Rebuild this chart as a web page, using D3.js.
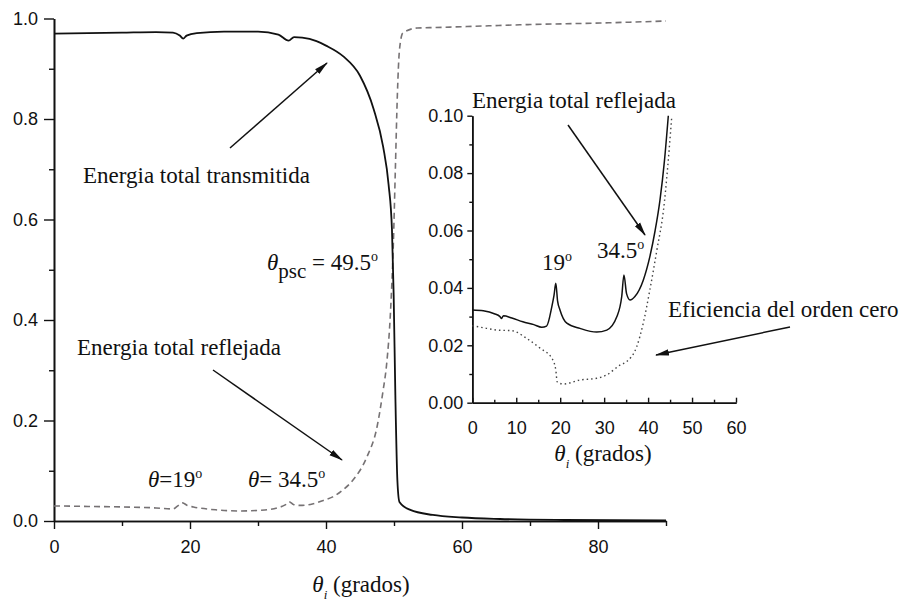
<!DOCTYPE html>
<html>
<head>
<meta charset="utf-8">
<script src="https://cdn.jsdelivr.net/npm/d3@7"></script>
<style>
  body { margin: 0; background: #fff; }
  .tick text { font-family: "Liberation Sans", Arial, sans-serif; font-size: 18px; fill: #111; }
  .ann { font-family: "Liberation Serif", "Times New Roman", serif; font-size: 23px; fill: #111; }
</style>
</head>
<body>
<div id="chart"></div>
<script>
// main plot: transmitted energy (solid) and reflected energy (dashed)
const transAngle = [0, 5, 10, 15, 17.5, 18.5, 19, 19.5, 21, 25, 30, 33, 34.5, 35.3, 36.5, 38.6, 40, 42.5, 45, 47, 48.4, 49.2, 49.7, 49.95, 50.2, 50.5, 50.8, 52.4, 55.7, 60, 65.6, 75, 90]
const transVal   = [0.970, 0.971, 0.972, 0.973, 0.972, 0.966, 0.960, 0.966, 0.971, 0.974, 0.974, 0.968, 0.956, 0.963, 0.962, 0.955, 0.946, 0.925, 0.886, 0.82, 0.745, 0.67, 0.58, 0.45, 0.25, 0.08, 0.038, 0.022, 0.012, 0.007, 0.004, 0.002, 0.001]

const reflAngle = [0, 5, 10, 15, 17.5, 18.2, 18.9, 19.6, 20.5, 24, 27.4, 31, 32.8, 34.0, 34.6, 35.2, 36.2, 38, 39.6, 41, 42.5, 44, 46, 47.5, 48.4, 48.9, 49.5, 49.9, 50.2, 50.5, 50.8, 51.3, 53.4, 56, 60.7, 70, 80.3, 90]
const reflVal   = [0.030, 0.029, 0.028, 0.026, 0.024, 0.030, 0.036, 0.031, 0.028, 0.022, 0.020, 0.022, 0.026, 0.032, 0.038, 0.033, 0.031, 0.034, 0.041, 0.048, 0.062, 0.082, 0.127, 0.187, 0.26, 0.31, 0.42, 0.55, 0.70, 0.85, 0.937, 0.971, 0.981, 0.982, 0.984, 0.988, 0.991, 0.995]

// inset: reflected energy (solid) and zero-order efficiency (dotted)
const inReflAngle = [0, 2.5, 5, 6.3, 6.6, 7.1, 9, 11.5, 14, 15.8, 16.9, 18.1, 18.6, 19.0, 19.4, 19.95, 21.5, 24.5, 28.3, 30.6, 32.9, 34.0, 34.5, 35.1, 35.9, 37.0, 38.9, 40.4, 41.6, 42.7, 43.7, 44.6]
const inReflVal   = [0.0323, 0.032, 0.031, 0.0300, 0.0293, 0.0303, 0.0295, 0.0282, 0.0272, 0.0263, 0.0267, 0.0335, 0.0375, 0.0416, 0.0355, 0.0323, 0.0277, 0.0259, 0.0246, 0.0253, 0.030, 0.037, 0.0445, 0.038, 0.0358, 0.037, 0.0427, 0.0509, 0.060, 0.0706, 0.084, 0.1]

const effAngle = [0, 3, 5.6, 9, 12.4, 15.4, 18.1, 19.0, 19.3, 20.7, 24.5, 28.3, 30.6, 33.6, 35.1, 37.4, 38.9, 40.4, 42.0, 43.5, 45.4]
const effVal   = [0.0268, 0.026, 0.0253, 0.0251, 0.0224, 0.019, 0.0155, 0.0114, 0.0073, 0.0065, 0.0079, 0.0085, 0.0097, 0.0131, 0.0143, 0.0195, 0.0277, 0.0393, 0.0532, 0.0671, 0.1]

const mainXMajor = [0, 20, 40, 60, 80]
const mainXMinor = [10, 30, 50, 70, 90]
const mainYMajor = [0, 0.2, 0.4, 0.6, 0.8, 1.0]
const mainYMinor = [0.1, 0.3, 0.5, 0.7, 0.9]
const inXMajor = [0, 10, 20, 30, 40, 50, 60]
const inXMinor = [5, 15, 25, 35, 45, 55]
const inYMajor = [0, 0.02, 0.04, 0.06, 0.08, 0.10]
const inYMinor = [0.01, 0.03, 0.05, 0.07, 0.09]

const zip = (a, b) => a.map((v, i) => [v, b[i]])

const svg = d3.select('#chart').append('svg')
  .attr('width', 912)
  .attr('height', 603)

svg.append('defs').append('marker')
  .attr('id', 'arrow')
  .attr('markerUnits', 'userSpaceOnUse')
  .attr('viewBox', '0 -4 14 8')
  .attr('markerWidth', 14).attr('markerHeight', 8)
  .attr('refX', 13).attr('refY', 0)
  .attr('orient', 'auto')
  .append('path').attr('d', 'M0,-3.2L14,0L0,3.2Z').attr('fill', '#111')

// ---------- main chart
const x = d3.scaleLinear().domain([0, 90]).range([54, 666])
const y = d3.scaleLinear().domain([0, 1]).range([521, 18.5])

svg.append('g').attr('transform', `translate(0,${y(0)})`)
  .call(d3.axisBottom(x).tickValues(mainXMajor).tickFormat(d3.format('d')).tickSize(8).tickSizeOuter(0).tickPadding(11))
svg.append('g').attr('transform', `translate(0,${y(0)})`)
  .call(d3.axisBottom(x).tickValues(mainXMinor).tickFormat('').tickSize(5).tickSizeOuter(0))

svg.append('g').attr('transform', `translate(${x(0)},0)`)
  .call(d3.axisLeft(y).tickValues(mainYMajor).tickFormat(d3.format('.1f')).tickSize(10).tickSizeOuter(0).tickPadding(6))
svg.append('g').attr('transform', `translate(${x(0)},0)`)
  .call(d3.axisLeft(y).tickValues(mainYMinor).tickFormat('').tickSize(5).tickSizeOuter(0))

const line = d3.line().x(d => x(d[0])).y(d => y(d[1])).curve(d3.curveMonotoneX)

svg.append('path').datum(zip(reflAngle, reflVal))
  .attr('d', line).attr('fill', 'none')
  .attr('stroke', '#767274').attr('stroke-width', 1.6).attr('stroke-dasharray', '6,4')

svg.append('path').datum(zip(transAngle, transVal))
  .attr('d', line).attr('fill', 'none')
  .attr('stroke', '#111').attr('stroke-width', 1.8)

// ---------- inset
const xi = d3.scaleLinear().domain([0, 60]).range([472.3, 736])
const yi = d3.scaleLinear().domain([0, 0.1]).range([402.7, 115.7])

svg.append('g').attr('transform', `translate(0,${yi(0)})`)
  .call(d3.axisBottom(xi).tickValues(inXMajor).tickFormat(d3.format('d')).tickSize(-5).tickSizeOuter(0).tickPadding(19))
svg.append('g').attr('transform', `translate(0,${yi(0)})`)
  .call(d3.axisBottom(xi).tickValues(inXMinor).tickFormat('').tickSize(-3).tickSizeOuter(0))

svg.append('g').attr('transform', `translate(${xi(0)},0)`)
  .call(d3.axisLeft(yi).tickValues(inYMajor).tickFormat(d3.format('.2f')).tickSize(5).tickSizeOuter(0).tickPadding(4))
svg.append('g').attr('transform', `translate(${xi(0)},0)`)
  .call(d3.axisLeft(yi).tickValues(inYMinor).tickFormat('').tickSize(3).tickSizeOuter(0))

const lineIn = d3.line().x(d => xi(d[0])).y(d => yi(d[1])).curve(d3.curveMonotoneX)

svg.append('path').datum(zip(effAngle, effVal))
  .attr('d', lineIn).attr('fill', 'none')
  .attr('stroke', '#444').attr('stroke-width', 1.4).attr('stroke-dasharray', '1.5,3')

svg.append('path').datum(zip(inReflAngle, inReflVal))
  .attr('d', lineIn).attr('fill', 'none')
  .attr('stroke', '#111').attr('stroke-width', 1.5)

svg.selectAll('.domain').attr('stroke', '#111').attr('stroke-width', 1.6)
svg.selectAll('.tick line').attr('stroke', '#111').attr('stroke-width', 1.4)

// ---------- annotations
const text = (tx, ty) => svg.append('text').attr('class', 'ann').attr('x', tx).attr('y', ty)
const deg = t => t.append('tspan').attr('dy', -9).attr('font-size', 14).text('o')

text(83, 183).text('Energia total transmitida')
text(77, 355).text('Energia total reflejada')
text(472, 108).text('Energia total reflejada')
text(668, 317).text('Eficiencia del orden cero')

let t = text(267, 270)
t.append('tspan').attr('font-style', 'italic').text('θ')
t.append('tspan').attr('dy', 8).attr('font-size', 21).text('psc')
t.append('tspan').attr('dy', -8).text(' = 49.5')
deg(t)

t = text(148, 487)
t.append('tspan').attr('font-style', 'italic').text('θ')
t.append('tspan').text('=19')
deg(t)

t = text(248, 487)
t.append('tspan').attr('font-style', 'italic').text('θ')
t.append('tspan').text('= 34.5')
deg(t)

t = text(542, 270)
t.append('tspan').text('19')
deg(t)

t = text(597, 258)
t.append('tspan').text('34.5')
deg(t)

const axisTitle = (cx, ty) => {
  const a = svg.append('text').attr('class', 'ann').attr('x', cx).attr('y', ty).attr('text-anchor', 'middle')
  a.append('tspan').attr('font-style', 'italic').text('θ')
  a.append('tspan').attr('dy', 7).attr('font-size', 13).attr('font-style', 'italic').text('i')
  a.append('tspan').attr('dy', -7).text(' (grados)')
}
axisTitle(361, 592)
axisTitle(603, 461)

const arrows = [
  [230, 148, 327, 63],
  [213, 370, 342, 460],
  [568, 125, 645, 235],
  [790, 327, 656, 355]
]
svg.selectAll('.arrow').data(arrows).enter().append('line')
  .attr('class', 'arrow')
  .attr('x1', d => d[0]).attr('y1', d => d[1])
  .attr('x2', d => d[2]).attr('y2', d => d[3])
  .attr('stroke', '#111').attr('stroke-width', 1.5)
  .attr('marker-end', 'url(#arrow)')
</script>
</body>
</html>
